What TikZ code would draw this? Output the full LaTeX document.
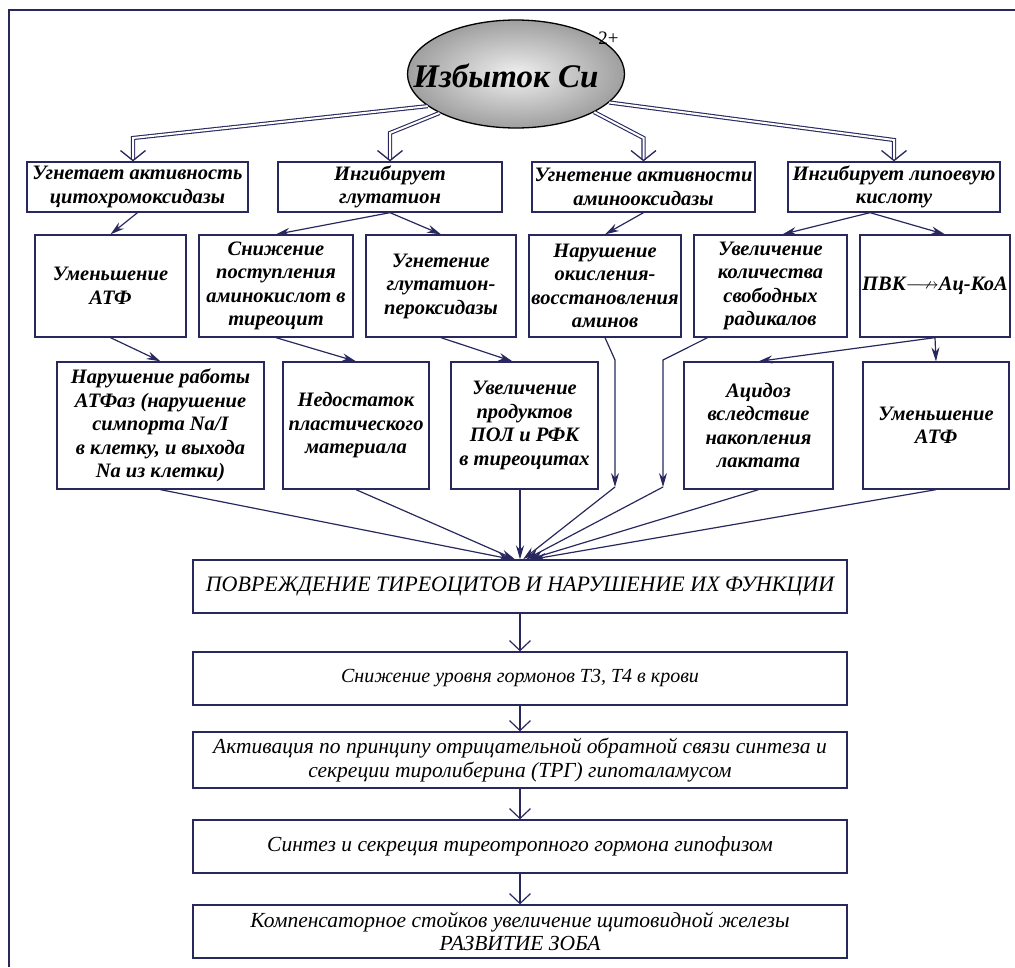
\documentclass[tikz,border=0pt]{standalone}
\usepackage{fontspec}
\setmainfont{Liberation Serif}
\usepackage{amssymb}
\usetikzlibrary{arrows.meta,shapes.geometric}

\definecolor{ink}{RGB}{40,40,95}

\tikzset{
 box/.style={draw=ink, line width=1.3pt, inner sep=1pt, align=center, text=black},
 up/.style={box, font=\fontsize{20.5}{23.5}\selectfont\bfseries\itshape},
 low/.style={box, minimum width=654pt, font=\fontsize{21.5}{23.5}\selectfont\itshape},
 arr/.style={draw=ink, line width=1.2pt, -{Stealth[length=14pt,width=8pt]}},
 dbl/.style={draw=ink, line width=1.1pt, double=white, double distance=2pt, -{Straight Barb[length=10pt,width=25pt,line width=1.3pt]}},
 vee/.style={draw=ink, line width=1.1pt, -{Straight Barb[length=10pt,width=21pt,line width=1.2pt]}},
}

\begin{document}
\begin{tikzpicture}[x=1pt,y=-1pt]
 \useasboundingbox (0,0) rectangle (1015,967);
 \draw[ink, line width=1.2pt] (9,967) -- (9,10) -- (1015,10); % рамка

 % избыток меди
 \node[ellipse, draw=black, line width=1.3pt, minimum width=217pt, minimum height=108pt, inner sep=0pt, inner color=gray!12, outer color=gray!75] (cu) at (516,74) {};
 \node[anchor=base, font=\fontsize{33}{33}\selectfont\bfseries\itshape] (cutxt) at ([yshift=-13pt]cu.center) {Избыток Cu\raisebox{1.3em}{\fontsize{19}{19}\selectfont\mdseries\upshape 2+}};

 % 1 ряд
 \node[up, minimum width=221pt, minimum height=50pt] (A) at (137.5,187) {Угнетает активность\\цитохромоксидазы};
 \node[up, minimum width=224pt, minimum height=50pt] (B) at (390,187) {Ингибирует\\глутатион};
 \node[up, minimum width=223pt, minimum height=50pt] (C) at (643.5,187) {Угнетение активности\\аминооксидазы};
 \node[up, minimum width=212pt, minimum height=50pt] (D) at (894,187) {Ингибирует липоевую\\кислоту};

 % 2 ряд
 \node[up, minimum width=151pt, minimum height=102pt] (umA) at (110.5,286) {Уменьшение\\АТФ};
 \node[up, minimum width=154pt, minimum height=102pt] (snizh) at (276,286) {Снижение\\поступления\\аминокислот в\\тиреоцит};
 \node[up, minimum width=150pt, minimum height=102pt] (ugn) at (441,286) {Угнетение\\глутатион-\\пероксидазы};
 \node[up, minimum width=152pt, minimum height=102pt] (nar) at (605,286) {Нарушение\\окисления-\\восстановления\\аминов};
 \node[up, minimum width=153pt, minimum height=102pt] (uvel) at (770.5,286) {Увеличение\\количества\\свободных\\радикалов};
 \node[up, minimum width=150pt, minimum height=102pt] (pvk) at (935,286) {ПВК$\relbar\joinrel\nrightarrow$Ац-КоА};

 % 3 ряд
 \node[up, minimum width=207pt, minimum height=127pt] (atf) at (160.5,425.5) {Нарушение работы\\АТФаз (нарушение\\симпорта Na/I\\в клетку, и выхода\\Na из клетки)};
 \node[up, minimum width=146pt, minimum height=127pt] (ned) at (356,425.5) {Недостаток\\пластического\\материала};
 \node[up, minimum width=147pt, minimum height=127pt] (pol) at (524.5,425.5) {Увеличение\\продуктов\\ПОЛ и РФК\\в тиреоцитах};
 \node[up, minimum width=149pt, minimum height=127pt] (acid) at (758.5,425.5) {Ацидоз\\вследствие\\накопления\\лактата};
 \node[up, minimum width=146pt, minimum height=127pt] (umB) at (936,425.5) {Уменьшение\\АТФ};

 % нижняя цепочка
 \node[low, minimum height=53pt, font=\fontsize{22}{24}\selectfont\itshape] (main) at (520,586.5) {ПОВРЕЖДЕНИЕ ТИРЕОЦИТОВ И НАРУШЕНИЕ ИХ ФУНКЦИИ};
 \node[low, minimum height=53pt, font=\fontsize{20}{22}\selectfont\itshape] (gorm) at (520,678.5) {Снижение уровня гормонов Т3, Т4 в крови};
 \node[low, minimum height=56pt] (trg) at (520,760) {Активация по принципу отрицательной обратной связи синтеза и\\секреции тиролиберина (ТРГ) гипоталамусом};
 \node[low, minimum height=53pt] (ttg) at (520,846.5) {Синтез и секреция тиреотропного гормона гипофизом};
 \node[low, minimum height=53pt] (zob) at (520,931.5) {Компенсаторное стойков увеличение щитовидной железы\\РАЗВИТИЕ ЗОБА};

 % двойные стрелки
 \coordinate (bA) at (133,138);
 \coordinate (bB) at (390,133);
 \coordinate (bC) at (643.5,138);
 \coordinate (bD) at (894,140);
 \draw[dbl] (cu.200) -- (bA) -- (bA |- A.north);
 \draw[dbl] (cu.207) -- (bB) -- (bB |- B.north);
 \draw[dbl] (cu.334) -- (bC) -- (bC |- C.north);
 \draw[dbl] (cu.343) -- (bD) -- (bD |- D.north);

 % 1 -> 2
 \draw[arr] (A.south) -- (umA.north);
 \draw[arr] (B.south) -- (snizh.north);
 \draw[arr] (B.south) -- (ugn.north);
 \draw[arr] (C.south) -- (nar.north);
 \draw[arr] ([xshift=-24pt]D.south) -- ([xshift=12pt]uvel.north);
 \draw[arr] ([xshift=-24pt]D.south) -- ([xshift=10pt]pvk.north);

 % 2 -> 3
 \draw[arr] (umA.south) -- (atf.north);
 \draw[arr] (snizh.south) -- (ned.north);
 \draw[arr] (ugn.south) -- ([xshift=-12pt]pol.north);
 \draw[arr] (pvk.south) -- (acid.north);
 \draw[arr] (pvk.south) -- (umB.north);
 \coordinate (n1) at (615,360);
 \coordinate (k1) at (615,487);
 \coordinate (n2) at (663,360);
 \coordinate (k2) at (663,487);
 \draw[arr] (nar.south) -- (n1) -- (k1);
 \draw[arr] ([xshift=-63pt]uvel.south) -- (n2) -- (k2);

 % 3 -> главный блок
 \draw[arr] (atf.south) -- ([xshift=-8pt]main.north);
 \draw[arr] (ned.south) -- ([xshift=-5pt]main.north);
 \draw[arr] (pol.south -| main.north) -- (main.north);
 \draw[arr] (k1) -- ([xshift=3pt]main.north);
 \draw[arr] (k2) -- ([xshift=6pt]main.north);
 \draw[arr] (acid.south) -- ([xshift=9pt]main.north);
 \draw[arr] (umB.south) -- ([xshift=12pt]main.north);

 % вниз
 \draw[vee] (main) -- (gorm);
 \draw[vee] (gorm) -- (trg);
 \draw[vee] (trg) -- (ttg);
 \draw[vee] (ttg) -- (zob);
\end{tikzpicture}
\end{document}
